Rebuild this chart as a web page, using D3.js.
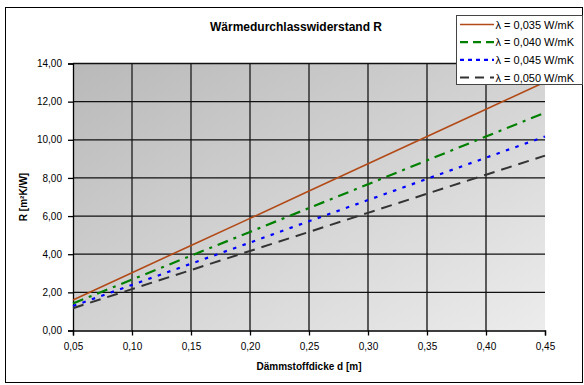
<!DOCTYPE html>
<html><head><meta charset="utf-8">
<script src="https://cdn.jsdelivr.net/npm/d3@7"></script>
<style>body{margin:0;background:#fff}svg{display:block;font-family:"Liberation Sans",Arial,sans-serif}</style>
</head><body>
<script>
const thickness = [0.05,0.10,0.15,0.20,0.25,0.30,0.35,0.40,0.45];
const r035 = [1.60,3.03,4.46,5.88,7.31,8.74,10.17,11.60,13.03];
const r040 = [1.42,2.67,3.92,5.17,6.42,7.67,8.92,10.17,11.42];
const r045 = [1.28,2.39,3.50,4.61,5.73,6.84,7.95,9.06,10.17];
const r050 = [1.17,2.17,3.17,4.17,5.17,6.17,7.17,8.17,9.17];
const seriesNames = ["λ = 0,035 W/mK","λ = 0,040 W/mK","λ = 0,045 W/mK","λ = 0,050 W/mK"];
const xTicks = [0.05,0.10,0.15,0.20,0.25,0.30,0.35,0.40,0.45];
const yTicks = [0,2,4,6,8,10,12,14];

const W=584,H=385;
const L=73,R=545,T=63.5,B=330.5;
const svg=d3.select("body").append("svg").attr("width",W).attr("height",H);
const x=d3.scaleLinear().domain([0.05,0.45]).range([L,R]);
const y=d3.scaleLinear().domain([0,14]).range([B,T]);
const fmt=d=>d3.format(".2f")(d).replace(".",",");

// frame
svg.append("rect").attr("x",5.5).attr("y",7.5).attr("width",577).attr("height",375).attr("fill","#fff").attr("stroke","#000").attr("stroke-width",1);

const defs=svg.append("defs");
const g=defs.append("linearGradient").attr("id","bg").attr("x1","0").attr("y1","0").attr("x2","1").attr("y2","1");
g.append("stop").attr("offset","0").attr("stop-color","#b9b9b9");
g.append("stop").attr("offset","1").attr("stop-color","#ececec");
svg.append("rect").attr("x",L).attr("y",T).attr("width",R-L).attr("height",B-T).attr("fill","url(#bg)");

// grid
svg.append("g").selectAll("line").data(xTicks.slice(1,-1)).join("line")
 .attr("x1",d=>x(d)).attr("x2",d=>x(d)).attr("y1",T).attr("y2",B)
 .attr("stroke","#4a4a4a").attr("stroke-width",1.8);
svg.append("g").selectAll("line").data(yTicks.slice(1)).join("line")
 .attr("x1",L).attr("x2",R).attr("y1",d=>y(d)).attr("y2",d=>y(d))
 .attr("stroke","#111").attr("stroke-width",1.3);

// axes
const xa=svg.append("g").attr("transform",`translate(0,${B})`)
 .call(d3.axisBottom(x).tickValues(xTicks).tickFormat(fmt).tickSize(5).tickPadding(7));
const ya=svg.append("g").attr("transform",`translate(${L},0)`)
 .call(d3.axisLeft(y).tickValues(yTicks).tickFormat(fmt).tickSize(5).tickPadding(6));
[xa,ya].forEach(a=>{a.select(".domain").attr("stroke","#000").attr("stroke-width",1.3);
 a.selectAll(".tick line").attr("stroke","#000").attr("stroke-width",1.3);
 a.selectAll("text").attr("font-size",10).attr("fill","#000").attr("font-family","Liberation Sans,Arial,sans-serif");});

// lines
const styles=[
 {c:"#b24a17",w:1.6,d:null},
 {c:"#008000",w:2.2,d:"11,6,3,6"},
 {c:"#0000ff",w:2.2,d:"3.5,6.5"},
 {c:"#333333",w:2.0,d:"11,7"}];
const data=[r035,r040,r045,r050];
const line=d3.line().x((d,i)=>x(thickness[i])).y(d=>y(d));
data.forEach((s,k)=>{
 svg.append("path").datum(s).attr("d",line).attr("fill","none")
  .attr("stroke",styles[k].c).attr("stroke-width",styles[k].w)
  .attr("stroke-dasharray",styles[k].d);
});

// titles
svg.append("text").attr("x",296).attr("y",31).attr("text-anchor","middle")
 .attr("font-size",12).attr("font-weight","bold").text("Wärmedurchlasswiderstand R");
svg.append("text").attr("x",309).attr("y",370).attr("text-anchor","middle")
 .attr("font-size",10).attr("font-weight","bold").text("Dämmstoffdicke d [m]");
svg.append("text").attr("transform",`translate(27,197) rotate(-90)`).attr("text-anchor","middle")
 .attr("font-size",10).attr("font-weight","bold").text("R [m²K/W]");

// legend
const lg=svg.append("g");
lg.append("rect").attr("x",456.5).attr("y",15.5).attr("width",126).attr("height",69)
 .attr("fill","#fff").attr("stroke","#444").attr("stroke-width",1);
seriesNames.forEach((n,k)=>{
 const yy=24.5+k*17.7;
 lg.append("line").attr("x1",460).attr("x2",494).attr("y1",yy).attr("y2",yy)
  .attr("stroke",styles[k].c).attr("stroke-width",styles[k].w)
  .attr("stroke-dasharray",k===1?"8,5":k===2?"4,4":k===3?"9,6":null);
 lg.append("text").attr("x",495.5).attr("y",yy+4).attr("font-size",11).text(n);
});
</script>
</body></html>
